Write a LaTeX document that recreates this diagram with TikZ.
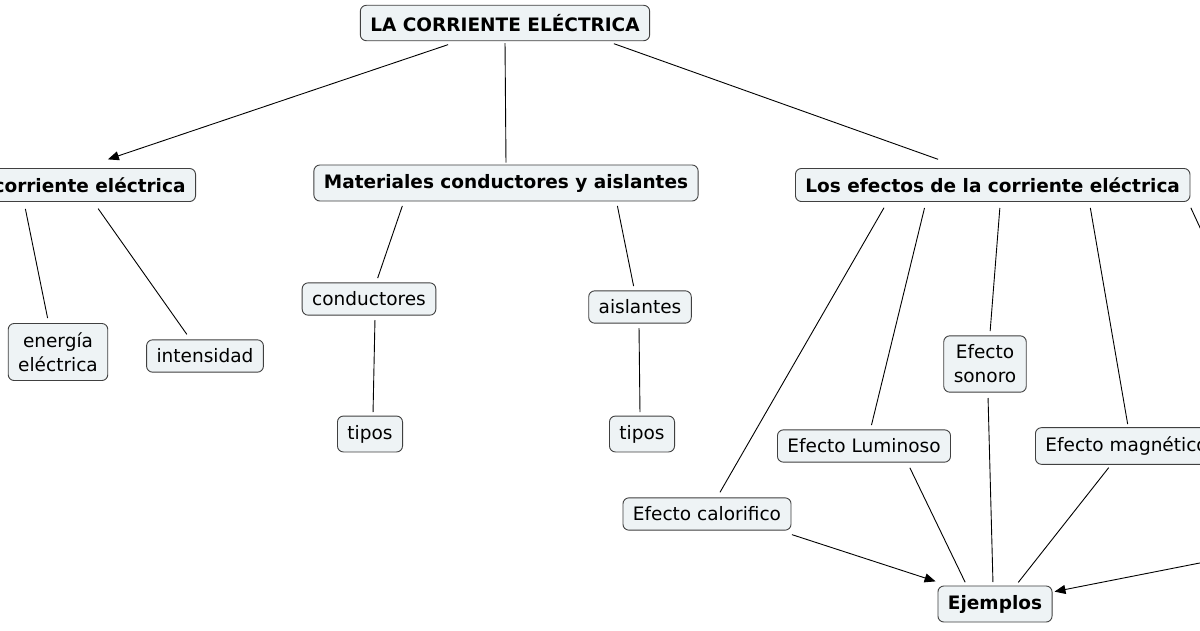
\documentclass[tikz,border=0pt]{standalone}
\usepackage{fontspec}
\setmainfont{DejaVu Sans}
\usetikzlibrary{arrows.meta}
\definecolor{boxfill}{HTML}{EEF3F5}
\begin{document}
\begin{tikzpicture}[x=1pt,y=-1pt,
  box/.style={draw=black!75,fill=boxfill,rounded corners=6pt,line width=0.9pt,inner xsep=10pt,inner ysep=9pt,font=\fontsize{18.5}{24}\selectfont,align=center},
  bbox/.style={box,font=\fontsize{18.5}{24}\selectfont\bfseries},
  con/.style={line width=0.9pt,shorten <=2pt,shorten >=2pt},
  arr/.style={con,-{Triangle[length=11pt,width=9pt]}}]
\useasboundingbox (0,0) rectangle (1200,630);
\fill[white] (0,0) rectangle (1200,630);
\node[bbox] (top) at (505,23) {LA CORRIENTE ELÉCTRICA};
\node[bbox,anchor=east] (left) at (196,185) {La corriente eléctrica};
\node[bbox] (mat) at (506,183) {Materiales conductores y aislantes};
\node[bbox,anchor=west] (efe) at (795,185) {Los efectos de la corriente eléctrica};
\node[box] (ene) at (58,352) {energía\\eléctrica};
\node[box] (int) at (205,356) {intensidad};
\node[box] (con) at (369,299) {conductores};
\node[box] (ais) at (640,307) {aislantes};
\node[box] (tip1) at (370,434) {tipos};
\node[box] (tip2) at (642,434) {tipos};
\node[box] (son) at (985,364) {Efecto\\sonoro};
\node[box] (lum) at (864,446) {Efecto Luminoso};
\node[box,anchor=west] (mag) at (1035,446) {Efecto magnético};
\node[box] (cal) at (707,514) {Efecto calorifico};
\node[bbox] (eje) at (995,604) {Ejemplos};
\coordinate (off1) at (1215,260);
\coordinate (off2) at (1215,560);
\draw[arr] (450,44) -- (106,160);
\draw[con] (top.south) -- (mat.north);
\draw[con] (612,43) -- (940,160);
\draw[con] (25,207) -- (48,320);
\draw[con] (97,207) -- (188,336);
\draw[con] (403,204) -- (377,280);
\draw[con] (617,204) -- (634,288);
\draw[con] (375,318) -- (373,414);
\draw[con] (639,326) -- (640,414);
\draw[con] (885,206) -- (719,494);
\draw[con] (925,206) -- (871,427);
\draw[con] (1000,206) -- (990,333);
\draw[con] (1090,206) -- (1128,426);
\draw[con] (1190,206) -- (off1);
\draw[con] (909,466) -- (966,584);
\draw[con] (988,396) -- (993,584);
\draw[con] (1110,466) -- (1017,584);
\draw[arr] (790,534) -- (eje.west |- 0,582);
\draw[arr] (off2) -- (eje.east |- 0,592);
\end{tikzpicture}
\end{document}
